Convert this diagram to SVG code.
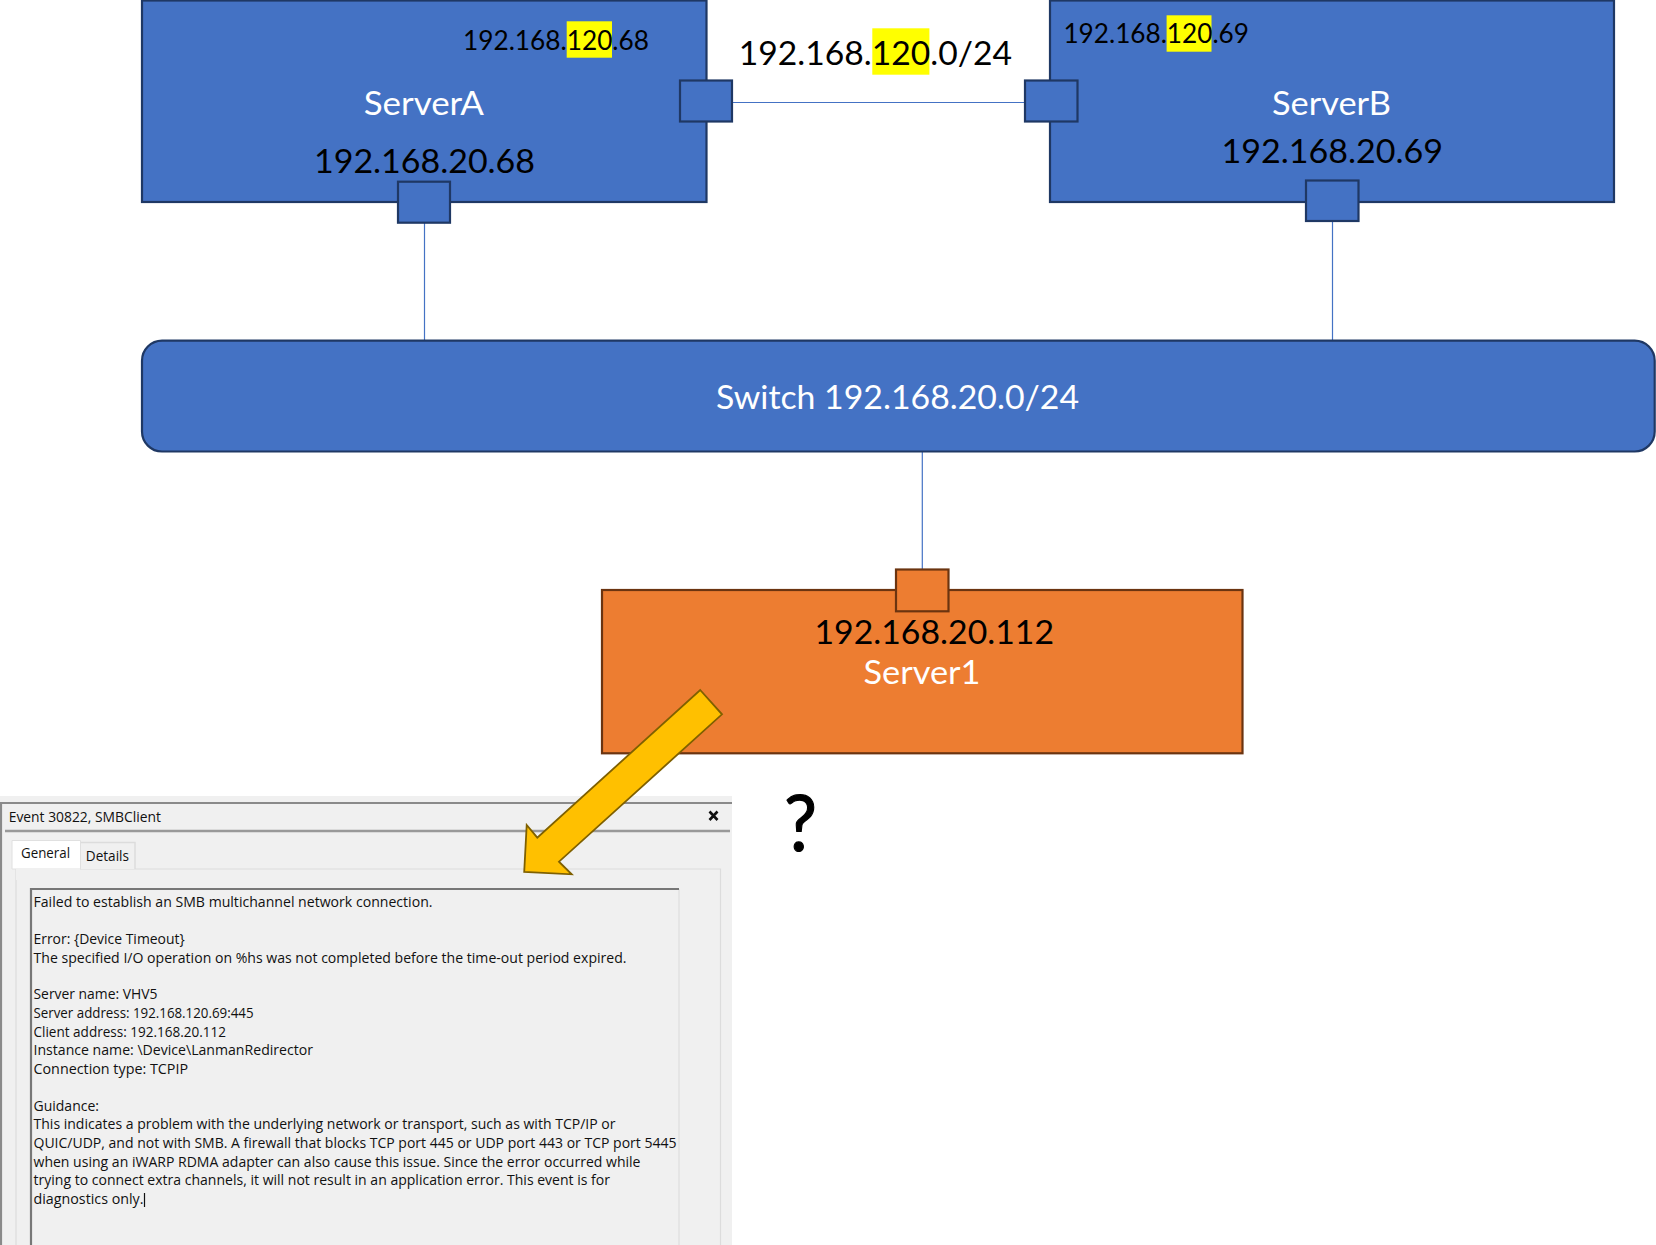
<svg xmlns="http://www.w3.org/2000/svg" width="1656" height="1245" viewBox="0 0 1656 1245">
<style>
.blue{fill:#4472c4;stroke:#1f3864;stroke-width:2.2}
.orange{fill:#ed7d31;stroke:#6b3410;stroke-width:2.2}
.wire{fill:none;stroke:#4472c4;stroke-width:1.2}
.t{font-family:Lato,"Liberation Sans",sans-serif;fill:#000}
.w{fill:#fff}
.hl{fill:#ffff00}
.d{font-family:"Open Sans","Noto Sans",sans-serif;font-size:15px;fill:#111}
</style>
<rect width="1656" height="1245" fill="#fff"/>
<g id="connectors">
<path class="wire" d="M732 102.5H1025"/>
<path class="wire" d="M424.5 223V341"/>
<path class="wire" d="M1332.5 221V341"/>
<path class="wire" d="M922.3 451V570"/>
</g>
<g id="serverA">
<rect class="blue" x="142" y="0.5" width="564.5" height="201.5"/>
<rect class="hl" x="566.7" y="21.3" width="45.3" height="36.4"/>
<text class="t" x="463" y="50" font-size="26" textLength="186" lengthAdjust="spacingAndGlyphs">192.168.120.68</text>
<text class="t w" x="363.7" y="114.9" font-size="33" textLength="120.3" lengthAdjust="spacingAndGlyphs">ServerA</text>
<text class="t" x="314" y="173" font-size="33" textLength="221" lengthAdjust="spacingAndGlyphs">192.168.20.68</text>
<rect class="blue" x="398" y="181.7" width="52" height="41"/>
<rect class="blue" x="680" y="80.5" width="52" height="41"/>
</g>
<g id="serverB">
<rect class="blue" x="1050" y="0.5" width="564" height="201.5"/>
<rect class="hl" x="1166.6" y="15.3" width="44.9" height="36.4"/>
<text class="t" x="1063.4" y="43.4" font-size="26" textLength="185.6" lengthAdjust="spacingAndGlyphs">192.168.120.69</text>
<text class="t w" x="1272" y="114.9" font-size="33" textLength="119" lengthAdjust="spacingAndGlyphs">ServerB</text>
<text class="t" x="1221.5" y="163" font-size="33" textLength="221.5" lengthAdjust="spacingAndGlyphs">192.168.20.69</text>
<rect class="blue" x="1306" y="180.5" width="52.5" height="40.5"/>
<rect class="blue" x="1025" y="80.5" width="52.5" height="41"/>
</g>
<g id="subnet-label">
<rect class="hl" x="872.3" y="28.3" width="57.1" height="46.4"/>
<text class="t" x="738.7" y="65" font-size="33" textLength="273.3" lengthAdjust="spacingAndGlyphs">192.168.120.0/24</text>
</g>
<g id="switch">
<rect class="blue" x="142" y="340.7" width="1512.7" height="110.8" rx="20" ry="20"/>
<text class="t w" x="716" y="409.3" font-size="33" textLength="363" lengthAdjust="spacingAndGlyphs">Switch 192.168.20.0/24</text>
</g>
<g id="server1">
<rect class="orange" x="602" y="590" width="640.5" height="163.3"/>
<rect class="orange" x="896" y="569.5" width="52.5" height="41.8"/>
<text class="t" x="814.5" y="643.7" font-size="33" textLength="239.5" lengthAdjust="spacingAndGlyphs">192.168.20.112</text>
<text class="t w" x="863.5" y="684.3" font-size="33" textLength="117" lengthAdjust="spacingAndGlyphs">Server1</text>
</g>
<g id="question">
<text class="t" x="784" y="851" font-size="78" textLength="33" lengthAdjust="spacingAndGlyphs" stroke="#000" stroke-width="1.2">?</text>
</g>
<g id="event-dialog">
<rect x="0" y="796" width="732" height="449" fill="#f0f0f0"/>
<path d="M1 1245V803H732" fill="none" stroke="#8a8a8a" stroke-width="2.2"/>
<path d="M5 831H730" fill="none" stroke="#999" stroke-width="2.6"/>
<path d="M16 1245V869H720.5V1245" fill="none" stroke="#dcdcdc" stroke-width="1.2"/>
<path d="M80 869V842.5H135V869" fill="#f0f0f0" stroke="#dcdcdc" stroke-width="1.5"/>
<path d="M12 869V840.5H80.5V869Z" fill="#fff" stroke="#e0e0e0" stroke-width="1"/>
<path d="M16 869H80V880H16Z" fill="#f0f0f0"/>
<path d="M679 889V1245" fill="none" stroke="#dedede" stroke-width="1.2"/>
<path d="M31 1245V889H679" fill="none" stroke="#777" stroke-width="2.2"/>
<text class="d" x="8.7" y="822.3" textLength="152.3" lengthAdjust="spacingAndGlyphs">Event 30822, SMBClient</text>
<text class="d" x="21" y="858.3" textLength="49" lengthAdjust="spacingAndGlyphs">General</text>
<text class="d" x="85.8" y="861" textLength="43.2" lengthAdjust="spacingAndGlyphs">Details</text>
<path d="M709.5 811.5L717.5 820M717.5 811.5L709.5 820" fill="none" stroke="#111" stroke-width="2.6"/>
<text class="d" x="33.5" y="906.7" textLength="399" lengthAdjust="spacingAndGlyphs">Failed to establish an SMB multichannel network connection.</text>
<text class="d" x="33.5" y="944" textLength="151.2" lengthAdjust="spacingAndGlyphs">Error: {Device Timeout}</text>
<text class="d" x="33.5" y="962.7" textLength="593" lengthAdjust="spacingAndGlyphs">The specified I/O operation on %hs was not completed before the time-out period expired.</text>
<text class="d" x="33.5" y="999.3" textLength="124" lengthAdjust="spacingAndGlyphs">Server name: VHV5</text>
<text class="d" x="33.5" y="1018" textLength="220" lengthAdjust="spacingAndGlyphs">Server address: 192.168.120.69:445</text>
<text class="d" x="33.5" y="1036.7" textLength="192.5" lengthAdjust="spacingAndGlyphs">Client address: 192.168.20.112</text>
<text class="d" x="33.5" y="1055.3" textLength="279.5" lengthAdjust="spacingAndGlyphs">Instance name: \Device\LanmanRedirector</text>
<text class="d" x="33.5" y="1073.7" textLength="154.5" lengthAdjust="spacingAndGlyphs">Connection type: TCPIP</text>
<text class="d" x="33.5" y="1110.7" textLength="65.5" lengthAdjust="spacingAndGlyphs">Guidance:</text>
<text class="d" x="33.5" y="1129.3" textLength="582" lengthAdjust="spacingAndGlyphs">This indicates a problem with the underlying network or transport, such as with TCP/IP or</text>
<text class="d" x="33.5" y="1148" textLength="643" lengthAdjust="spacingAndGlyphs">QUIC/UDP, and not with SMB. A firewall that blocks TCP port 445 or UDP port 443 or TCP port 5445</text>
<text class="d" x="33.5" y="1166.7" textLength="607" lengthAdjust="spacingAndGlyphs">when using an iWARP RDMA adapter can also cause this issue. Since the error occurred while</text>
<text class="d" x="33.5" y="1185.3" textLength="576.5" lengthAdjust="spacingAndGlyphs">trying to connect extra channels, it will not result in an application error. This event is for</text>
<text class="d" x="33.5" y="1204" textLength="110" lengthAdjust="spacingAndGlyphs">diagnostics only.</text>
<path d="M144.5 1193V1207" stroke="#111" stroke-width="1.2"/>
</g>
<g id="callout-arrow">
<polygon points="700.2,690 722,714.3 559,861.7 571.7,874.3 524.2,872 526.7,825 537.3,837.7" fill="#ffc000" stroke="#7f6000" stroke-width="1.8"/>
</g>
</svg>
